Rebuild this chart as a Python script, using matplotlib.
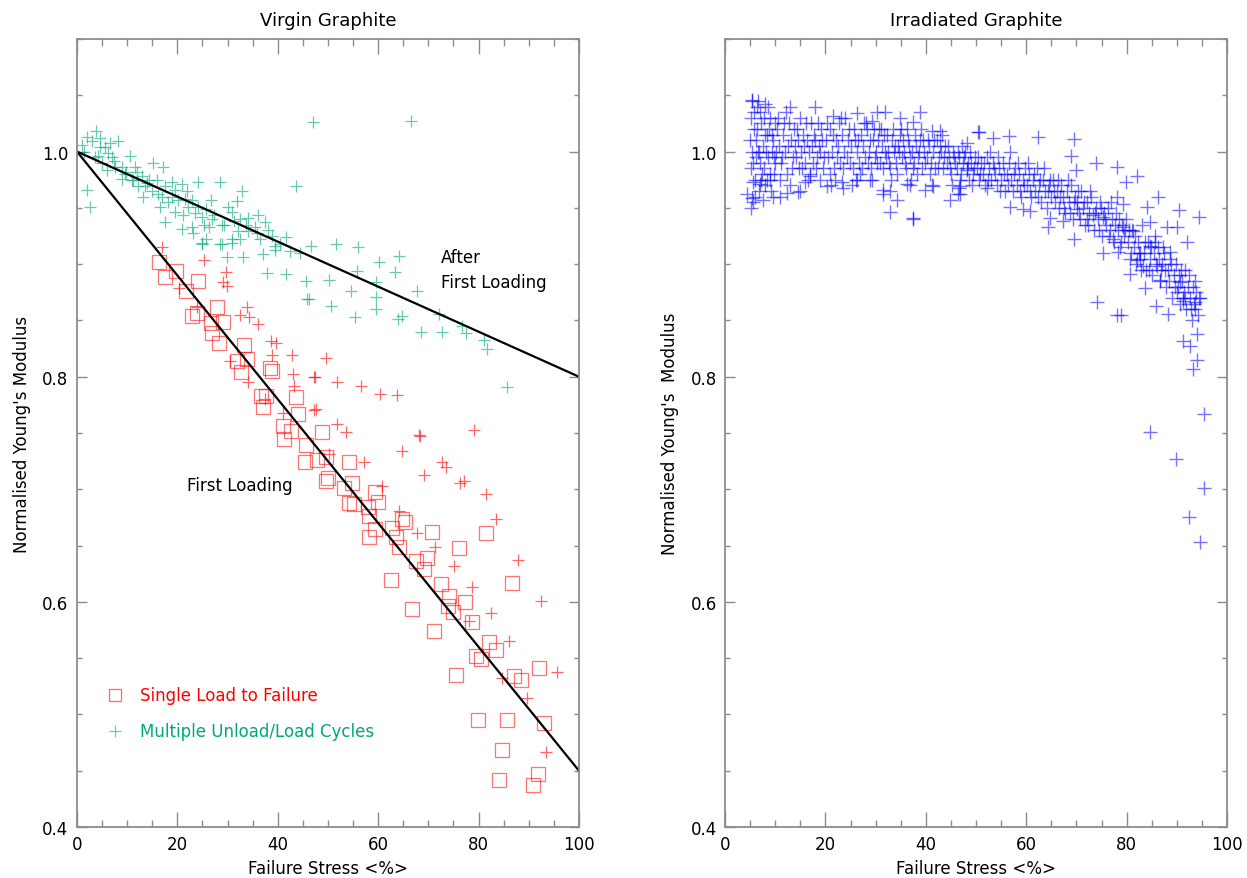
import numpy as np
import matplotlib
matplotlib.use("Agg")
import matplotlib.pyplot as plt
from matplotlib.ticker import MultipleLocator

# ---- Virgin graphite: single load to failure (squares) ----
sq_x = [16.3, 17.5, 19.7, 21.7, 24.1, 22.9, 23.9, 27.8, 29.0, 26.8, 27.0, 28.2, 33.2, 33.8,
        31.8, 32.6, 38.4, 38.8, 36.6, 37.6, 37.0, 43.7, 44.1, 41.0, 42.7, 41.2, 48.9, 45.7,
        49.7, 47.9, 45.5, 54.1, 50.1, 49.7, 54.7, 53.1, 59.4, 54.1, 55.1, 60.0, 57.9, 58.2,
        59.4, 58.2, 62.8, 64.8, 65.4, 63.6, 64.2, 70.8, 76.1, 81.5, 69.8, 67.6, 69.2, 62.6,
        72.6, 74.2, 77.3, 74.0, 74.9, 66.8, 71.2, 78.7, 82.1, 83.5, 79.5, 80.5, 86.7, 75.5,
        87.1, 88.5, 92.0, 79.9, 85.7, 93.0, 84.7, 84.1, 91.8, 90.9]
sq_y = [0.902, 0.889, 0.894, 0.876, 0.885, 0.854, 0.857, 0.862, 0.849, 0.848, 0.839, 0.830,
        0.828, 0.816, 0.814, 0.804, 0.808, 0.805, 0.783, 0.783, 0.773, 0.782, 0.767, 0.756,
        0.752, 0.745, 0.751, 0.739, 0.729, 0.726, 0.724, 0.724, 0.710, 0.707, 0.706, 0.701,
        0.698, 0.688, 0.687, 0.689, 0.684, 0.676, 0.665, 0.658, 0.666, 0.674, 0.671, 0.658,
        0.649, 0.662, 0.648, 0.661, 0.639, 0.636, 0.629, 0.619, 0.616, 0.605, 0.600, 0.596,
        0.591, 0.594, 0.574, 0.582, 0.564, 0.557, 0.552, 0.549, 0.617, 0.535, 0.534, 0.531,
        0.541, 0.495, 0.495, 0.492, 0.468, 0.442, 0.447, 0.437]

# ---- Virgin graphite: red crosses ----
rc_x = [16.9, 25.4, 29.6, 29.0, 29.8, 20.3, 23.9, 33.8, 32.4, 34.2, 36.0, 38.6, 39.6, 38.8,
        42.9, 30.4, 43.1, 47.3, 43.3, 34.0, 47.3, 41.0, 37.4, 49.7, 47.5, 51.9, 56.5, 60.4,
        63.8, 47.7, 51.9, 53.5, 68.4, 79.1, 64.8, 57.1, 72.8, 73.6, 69.2, 77.1, 76.3, 60.8,
        81.5, 50.3, 68.2, 64.2, 83.5, 67.8, 71.4, 75.2, 87.9, 78.7, 92.4, 82.5, 78.1, 86.1,
        84.7, 89.7, 95.6, 93.4]
rc_y = [0.915, 0.904, 0.893, 0.884, 0.881, 0.879, 0.862, 0.862, 0.855, 0.853, 0.847, 0.832,
        0.830, 0.819, 0.819, 0.814, 0.802, 0.800, 0.792, 0.795, 0.770, 0.768, 0.780, 0.817,
        0.800, 0.795, 0.792, 0.785, 0.784, 0.771, 0.758, 0.751, 0.747, 0.753, 0.734, 0.724,
        0.724, 0.720, 0.713, 0.707, 0.706, 0.703, 0.696, 0.731, 0.748, 0.681, 0.674, 0.661,
        0.649, 0.632, 0.637, 0.613, 0.601, 0.590, 0.583, 0.565, 0.532, 0.515, 0.538, 0.467]

# ---- Virgin graphite: multiple unload/load cycles (green crosses) ----
gc_x = [3.8, 2.0, 1.0, 3.0, 4.6, 5.6, 6.2, 8.2, 7.0, 5.0, 6.0, 7.6, 8.9, 9.5, 10.5, 11.5,
        11.1, 12.9, 12.1, 13.5, 15.1, 17.1, 15.9, 14.9, 16.9, 16.5, 17.5, 18.9, 19.5, 20.9,
        20.1, 21.9, 22.1, 21.1, 19.5, 24.1, 22.9, 24.1, 24.9, 25.8, 26.8, 28.4, 27.4, 28.8,
        26.4, 32.8, 31.8, 30.0, 30.8, 32.4, 34.0, 36.0, 37.4, 35.4, 34.0, 32.0, 30.8, 28.4,
        25.8, 24.9, 22.9, 20.9, 17.5, 2.6, 2.0, 36.4, 38.8, 39.4, 29.8, 33.0, 37.0, 39.4,
        41.7, 46.7, 51.7, 55.9, 60.2, 64.2, 55.7, 50.3, 45.7, 41.7, 37.8, 54.5, 59.6, 63.4,
        67.8, 59.6, 50.7, 45.9, 55.3, 59.6, 64.0, 64.8, 68.6, 72.8, 28.8, 25.0, 32.4, 30.8,
        23.1, 46.3, 72.2, 76.7, 77.5, 81.1, 81.7, 85.7, 47.1, 66.6, 43.7, 9.0, 14.0, 4.2,
        1.5, 3.5, 4.5, 6.6, 7.3, 9.8, 10.9, 12.0, 13.2, 14.3, 16.2, 18.2, 19.0, 21.5, 23.5,
        25.3, 26.9, 29.2, 31.2, 33.6, 35.8, 38.0, 40.5, 42.5, 44.5]
gc_y = [1.018, 1.013, 1.006, 1.009, 1.004, 1.004, 0.999, 1.009, 0.995, 0.990, 0.984, 0.986,
        0.986, 0.980, 0.996, 0.986, 0.975, 0.978, 0.969, 0.969, 0.990, 0.986, 0.975, 0.965,
        0.960, 0.951, 0.969, 0.973, 0.966, 0.971, 0.957, 0.965, 0.951, 0.944, 0.946, 0.973,
        0.957, 0.951, 0.942, 0.949, 0.957, 0.973, 0.944, 0.935, 0.933, 0.965, 0.956, 0.951,
        0.946, 0.940, 0.941, 0.944, 0.937, 0.933, 0.929, 0.929, 0.919, 0.918, 0.922, 0.919,
        0.933, 0.931, 0.937, 0.951, 0.966, 0.922, 0.925, 0.916, 0.906, 0.906, 0.909, 0.913,
        0.924, 0.916, 0.918, 0.915, 0.902, 0.907, 0.894, 0.886, 0.885, 0.891, 0.892, 0.876,
        0.884, 0.893, 0.876, 0.871, 0.863, 0.869, 0.853, 0.860, 0.851, 0.854, 0.840, 0.840,
        0.918, 0.918, 0.922, 0.922, 0.928, 0.869, 0.856, 0.845, 0.839, 0.833, 0.825, 0.791,
        1.026, 1.027, 0.969, 0.976, 0.972, 0.996,
        1.000, 0.995, 1.012, 1.008, 0.992, 0.982, 0.975, 0.982, 0.960, 0.975, 0.962, 0.955,
        0.960, 0.958, 0.945, 0.935, 0.940, 0.935, 0.938, 0.935, 0.928, 0.930, 0.918, 0.912,
        0.910]

# ---- fitted lines ----
line_x = [0, 100]
first_y = [1.0, 0.45]
after_y = [1.0, 0.80]

# ---- Irradiated graphite (blue crosses): scattered points ----
ir_x = [50.6, 53.4, 56.6, 62.4, 69.5, 68.9, 73.9, 78.1, 79.9, 82.1, 69.9, 86.3, 90.4, 94.4,
        92.0, 93.6, 74.1, 78.1, 78.9, 83.7, 85.9, 88.2, 94.0, 91.2, 92.6, 94.0, 93.2, 95.4,
        84.7, 89.8, 95.4, 92.4, 94.6, 64.3, 69.5, 75.3, 78.3, 80.7, 83.3, 86.7, 90.6, 91.2,
        91.6, 93.6, 90.0, 86.1, 88.6, 87.3, 84.7, 82.7, 82.1, 81.3, 79.3, 77.3, 75.3, 73.3,
        72.1, 70.1, 67.3, 64.7, 78.1, 79.3, 84.1, 84.7, 85.7, 90.0, 88.0, 56.8, 59.4, 60.8,
        46.6, 46.8, 52.2,
        5.4, 8.0, 17.9, 21.5, 26.3, 30.3, 31.9, 38.8, 29.3, 37.5, 41.2, 42.8, 48.2, 50.4,
        4.4, 5.4, 5.2, 7.6, 9.6, 12.4, 14.5, 20.3, 23.5, 23.3, 26.3, 31.5, 31.5, 34.3, 32.9,
        37.5, 39.8, 41.4, 44.8, 46.4, 46.8, 5.6, 7.0, 9.0, 16.9, 15.9, 28.9, 36.3, 48.2, 37.5]
ir_y = [1.017, 1.012, 1.014, 1.013, 1.011, 0.996, 0.990, 0.986, 0.973, 0.978, 0.984, 0.960,
        0.948, 0.942, 0.920, 0.885, 0.866, 0.855, 0.855, 0.879, 0.863, 0.856, 0.838, 0.832,
        0.827, 0.815, 0.807, 0.767, 0.751, 0.727, 0.701, 0.675, 0.653, 0.933, 0.922, 0.910,
        0.911, 0.891, 0.898, 0.886, 0.884, 0.867, 0.870, 0.866, 0.875, 0.898, 0.911, 0.915,
        0.916, 0.910, 0.904, 0.929, 0.933, 0.922, 0.942, 0.944, 0.940, 0.949, 0.938, 0.941,
        0.960, 0.953, 0.951, 0.937, 0.925, 0.933, 0.933, 0.951, 0.949, 0.947, 0.968, 0.962,
        0.968,
        1.046, 1.042, 1.040, 1.032, 1.034, 1.035, 1.035, 1.035, 1.027, 1.026, 1.018, 1.018,
        1.008, 1.017, 0.962, 0.959, 0.950, 0.957, 0.960, 0.963, 0.964, 0.969, 0.968, 0.973,
        0.975, 0.962, 0.966, 0.957, 0.946, 0.941, 0.966, 0.969, 0.957, 0.962, 0.969, 0.973,
        0.971, 0.975, 0.978, 0.973, 0.975, 0.971, 0.984, 0.940]

# ---- Irradiated graphite: dense core of the band ----
core_x = [5.2, 5.8, 6.1, 6.5, 6.9, 7.2, 7.5, 7.8, 8.3, 8.6, 9.0, 9.4, 9.8, 5.5, 5.9, 6.3, 7.0,
          8.0, 8.8, 9.6, 5.0, 5.3, 10.0, 6.7, 7.4,
          5.1, 5.7, 6.0, 6.4, 6.8, 7.1, 7.7, 8.1, 8.5, 8.9, 9.3, 9.7, 5.4, 6.6, 7.9, 9.1, 5.6,
          8.4, 9.9, 6.2,
          10.4, 10.8, 11.2, 11.6, 12.0, 12.4, 12.8, 13.2, 13.6, 14.0, 14.4, 14.8, 15.2, 15.6,
          16.0, 16.4, 16.8, 17.2, 17.6, 18.0, 18.4, 18.8, 19.2, 19.6, 11.0, 13.0, 15.0, 17.0,
          19.0, 12.2,
          10.2, 10.6, 11.4, 11.8, 12.6, 13.4, 13.8, 14.2, 14.6, 15.4, 15.8, 16.2, 16.6, 17.4,
          17.8, 18.2, 18.6, 19.4, 19.8, 10.9, 14.9, 18.9, 12.9,
          20.2, 20.6, 21.0, 21.4, 21.8, 22.2, 22.6, 23.0, 23.4, 23.8, 24.2, 24.6, 25.0, 25.4,
          25.8, 26.2, 26.6, 27.0, 27.4, 27.8, 28.2, 28.6, 29.0, 29.4, 29.8, 22.0, 24.0, 26.0,
          28.0, 30.0,
          20.4, 20.9, 21.6, 22.4, 22.8, 23.6, 24.4, 24.8, 25.6, 26.4, 26.8, 27.6, 28.4, 28.8,
          29.6, 21.2, 23.2, 25.2, 27.2, 29.2,
          30.4, 30.8, 31.2, 31.6, 32.0, 32.4, 32.8, 33.2, 33.6, 34.0, 34.4, 34.8, 35.2, 35.6,
          36.0, 36.4, 36.8, 37.2, 37.6, 38.0, 38.4, 38.8, 39.2, 39.6, 31.0, 33.0, 35.0, 37.0,
          39.0,
          30.2, 30.6, 31.4, 31.8, 32.2, 32.6, 33.4, 33.8, 34.2, 34.6, 35.4, 35.8, 36.2, 36.6,
          37.4, 37.8, 38.2, 38.6, 39.4, 39.8, 32.9, 36.9, 34.9,
          40.2, 40.6, 41.0, 41.4, 41.8, 42.2, 42.6, 43.0, 43.4, 43.8, 44.2, 44.6, 45.0, 45.4,
          45.8, 46.2, 46.6, 47.0, 47.4, 47.8, 48.2, 48.6, 49.0, 49.4, 49.8,
          40.4, 40.8, 41.6, 42.4, 42.8, 43.6, 44.4, 44.8, 45.6, 46.4, 46.8, 47.6, 48.4, 48.8,
          49.6, 41.2, 43.2, 45.2, 47.2, 49.2,
          50.2, 50.6, 51.0, 51.4, 51.8, 52.2, 52.6, 53.0, 53.4, 53.8, 54.2, 54.6, 55.0, 55.4,
          55.8, 56.2, 56.6, 57.0, 57.4, 57.8, 58.2, 58.6, 59.0, 59.4, 59.8,
          50.4, 50.8, 51.6, 52.4, 52.8, 53.6, 54.4, 54.8, 55.6, 56.4, 56.8, 57.6, 58.4, 58.8,
          59.6,
          60.2, 60.6, 61.0, 61.4, 61.8, 62.2, 62.6, 63.0, 63.4, 63.8, 64.2, 64.6, 65.0, 65.4,
          65.8, 66.2, 66.6, 67.0, 67.4, 67.8, 68.2, 68.6, 69.0, 69.4, 69.8,
          60.4, 60.8, 61.6, 62.4, 62.8, 63.6, 64.4, 64.8, 65.6, 66.4, 66.8, 67.6, 68.4, 68.8,
          69.6,
          70.2, 70.6, 71.0, 71.4, 71.8, 72.2, 72.6, 73.0, 73.4, 73.8, 74.2, 74.6, 75.0, 75.4,
          75.8, 76.2, 76.6, 77.0, 77.4, 77.8, 78.2, 78.6, 79.0, 79.4, 79.8,
          70.4, 70.8, 71.6, 72.4, 72.8, 73.6, 74.4, 74.8, 75.6, 76.4, 76.8, 77.6, 78.4, 78.8,
          79.6,
          80.2, 80.6, 81.0, 81.4, 81.8, 82.2, 82.6, 83.0, 83.4, 83.8, 84.2, 84.6, 85.0, 85.4,
          85.8, 86.2, 86.6, 87.0, 87.4, 87.8, 88.2, 88.6, 89.0, 89.4, 89.8,
          80.4, 80.8, 81.6, 82.4, 82.8, 83.6, 84.4, 84.8, 85.6, 86.4, 86.8, 87.6, 88.4, 88.8,
          89.6,
          90.2, 90.6, 91.0, 91.4, 91.8, 92.2, 92.6, 93.0, 93.4, 93.8, 94.2, 94.6, 90.8, 92.4,
          90.4, 91.2, 91.6, 92.8, 93.2, 93.6, 94.4]
core_y = [1.030, 1.020, 1.010, 1.000, 0.990, 1.025, 1.005, 0.985, 1.015, 0.995, 1.030, 1.000,
          0.980, 0.990, 0.975, 1.040, 1.035, 0.970, 1.020, 1.010, 1.010, 1.000, 0.990, 0.965,
          0.980,
          0.985, 1.035, 0.960, 1.020, 1.000, 0.975, 1.030, 1.000, 1.040, 0.980, 1.015, 0.995,
          1.045, 1.045, 1.015, 0.965, 0.955, 0.975, 1.025, 0.995,
          1.020, 1.005, 0.990, 1.015, 1.000, 0.980, 1.025, 1.010, 0.995, 1.005, 1.020, 0.985,
          1.000, 1.015, 0.990, 1.010, 1.000, 1.025, 0.990, 1.010, 0.995, 1.005, 1.020, 0.985,
          0.975, 0.970, 1.030, 0.980, 1.000, 1.035,
          1.000, 1.030, 0.995, 1.025, 1.005, 0.985, 1.020, 0.995, 1.010, 0.985, 1.005, 1.025,
          0.975, 1.005, 1.015, 0.985, 1.025, 1.010, 0.995, 0.960, 0.965, 0.975, 1.040,
          1.010, 0.995, 1.020, 1.000, 0.985, 1.010, 1.005, 0.990, 1.015, 1.000, 0.995, 1.020,
          1.005, 0.985, 1.010, 1.000, 0.990, 1.015, 1.005, 0.995, 1.020, 1.000, 0.985, 1.010,
          0.995, 0.975, 1.030, 0.975, 1.025, 1.000,
          1.025, 0.980, 1.015, 0.995, 1.025, 0.985, 1.010, 0.990, 1.020, 1.010, 0.980, 1.025,
          0.990, 1.010, 1.020, 0.970, 1.030, 0.970, 0.985, 0.975,
          1.010, 0.990, 1.005, 1.015, 0.995, 1.000, 0.985, 1.010, 1.000, 0.990, 1.005, 1.015,
          0.995, 1.000, 0.985, 1.010, 0.995, 1.000, 0.990, 1.005, 0.995, 1.010, 0.985, 1.000,
          1.020, 0.975, 1.020, 0.975, 1.020,
          0.990, 1.020, 0.985, 1.000, 1.015, 0.990, 1.020, 1.005, 0.980, 1.000, 1.010, 0.990,
          1.020, 1.005, 0.985, 1.015, 0.980, 1.000, 1.010, 0.990, 0.965, 0.970, 1.030,
          0.995, 1.005, 0.990, 1.000, 0.985, 1.010, 0.995, 1.000, 0.985, 1.005, 0.990, 0.995,
          0.980, 1.000, 0.990, 0.985, 0.995, 0.980, 0.990, 1.000, 0.985, 0.975, 0.990, 0.980,
          0.995,
          1.010, 0.980, 1.010, 0.985, 1.005, 0.995, 1.005, 0.985, 0.995, 1.000, 0.975, 0.995,
          0.990, 1.000, 0.985, 0.970, 1.015, 0.970, 1.005, 0.970,
          0.985, 0.975, 0.990, 0.980, 0.970, 0.995, 0.985, 0.975, 0.990, 0.980, 0.970, 0.985,
          0.975, 0.990, 0.965, 0.980, 0.990, 0.975, 0.965, 0.985, 0.970, 0.980, 0.960, 0.975,
          0.985,
          0.995, 0.980, 0.990, 0.975, 1.000, 0.985, 0.995, 0.965, 0.980, 0.970, 1.000, 0.980,
          0.990, 0.965, 0.970,
          0.970, 0.980, 0.960, 0.975, 0.965, 0.985, 0.970, 0.955, 0.975, 0.965, 0.950, 0.970,
          0.960, 0.975, 0.955, 0.965, 0.950, 0.970, 0.960, 0.945, 0.965, 0.955, 0.970, 0.940,
          0.960,
          0.990, 0.965, 0.980, 0.960, 0.975, 0.985, 0.965, 0.975, 0.965, 0.975, 0.960, 0.950,
          0.975, 0.945, 0.955,
          0.955, 0.945, 0.965, 0.950, 0.935, 0.955, 0.945, 0.960, 0.930, 0.950, 0.940, 0.955,
          0.925, 0.945, 0.935, 0.950, 0.930, 0.940, 0.920, 0.945, 0.930, 0.915, 0.935, 0.925,
          0.940,
          0.965, 0.940, 0.955, 0.935, 0.965, 0.945, 0.930, 0.950, 0.940, 0.925, 0.955, 0.935,
          0.940, 0.920, 0.930,
          0.920, 0.905, 0.930, 0.915, 0.900, 0.920, 0.905, 0.935, 0.910, 0.895, 0.920, 0.905,
          0.890, 0.910, 0.900, 0.915, 0.885, 0.900, 0.910, 0.880, 0.895, 0.905, 0.870, 0.890,
          0.900,
          0.930, 0.910, 0.925, 0.910, 0.895, 0.920, 0.895, 0.915, 0.920, 0.905, 0.895, 0.895,
          0.885, 0.900, 0.880,
          0.880, 0.865, 0.885, 0.875, 0.860, 0.880, 0.870, 0.850, 0.865, 0.875, 0.855, 0.870,
          0.895, 0.890,
          0.890, 0.870, 0.895, 0.860, 0.880, 0.860, 0.870]

x_ticks = [0, 20, 40, 60, 80, 100]
y_ticks = [0.4, 0.6, 0.8, 1.0]

GREEN = "#00a878"
AXC = "#8c8c8c"

fig = plt.figure(figsize=(12.47, 8.79), dpi=100)
ax1 = fig.add_axes([0.0617, 0.058, 0.4026, 0.8965])
ax2 = fig.add_axes([0.5814, 0.058, 0.4026, 0.8965])


def style(ax, title, ylabel):
    ax.set_xlim(0, 100)
    ax.set_ylim(0.4, 1.1)
    ax.set_xticks(x_ticks)
    ax.set_yticks(y_ticks)
    ax.set_yticklabels([f"{v:.1f}" for v in y_ticks])
    ax.xaxis.set_minor_locator(MultipleLocator(5))
    ax.yaxis.set_minor_locator(MultipleLocator(0.05))
    ax.tick_params(which="both", direction="in", top=True, right=True, color=AXC,
                   width=1.0, labelsize=12, pad=6)
    ax.tick_params(axis="x", which="major", length=11)
    ax.tick_params(axis="x", which="minor", length=5)
    ax.tick_params(axis="y", which="major", length=7.5)
    ax.tick_params(axis="y", which="minor", length=3.5)
    for s in ax.spines.values():
        s.set_color(AXC)
        s.set_linewidth(1.3)
    ax.set_title(title, fontsize=13, pad=10)
    ax.set_xlabel("Failure Stress <%>", fontsize=12, labelpad=4)
    ax.set_ylabel(ylabel, fontsize=12, labelpad=8)


# left panel
ax1.plot(sq_x, sq_y, linestyle="none", marker="s", markersize=10, markerfacecolor="none",
         markeredgecolor="red", markeredgewidth=0.9, alpha=0.55)
ax1.plot(rc_x, rc_y, linestyle="none", marker="+", markersize=9, markeredgecolor="red",
         markeredgewidth=0.9, alpha=0.6)
ax1.plot(gc_x, gc_y, linestyle="none", marker="+", markersize=9, markeredgecolor=GREEN,
         markeredgewidth=0.9, alpha=0.6)
ax1.plot(line_x, first_y, color="black", linewidth=1.6)
ax1.plot(line_x, after_y, color="black", linewidth=1.6)
ax1.text(72.5, 0.906, "After", fontsize=12, va="center")
ax1.text(72.5, 0.884, "First Loading", fontsize=12, va="center")
ax1.text(22, 0.704, "First Loading", fontsize=12, va="center")
ax1.plot([7.6], [0.517], linestyle="none", marker="s", markersize=9, markerfacecolor="none",
         markeredgecolor="red", markeredgewidth=0.9, alpha=0.6)
ax1.text(12.5, 0.517, "Single Load to Failure", color="red", fontsize=12, va="center")
ax1.plot([7.6], [0.485], linestyle="none", marker="+", markersize=9, markeredgecolor=GREEN,
         markeredgewidth=0.9, alpha=0.6)
ax1.text(12.5, 0.485, "Multiple Unload/Load Cycles", color=GREEN, fontsize=12, va="center")
style(ax1, "Virgin Graphite", "Normalised Young's Modulus")

# right panel
ax2.plot(ir_x, ir_y, linestyle="none", marker="+", markersize=9.5, markeredgecolor="blue",
         markeredgewidth=1.0, alpha=0.55)
ax2.plot(core_x, core_y, linestyle="none", marker="+", markersize=9.5, markeredgecolor="blue",
         markeredgewidth=1.0, alpha=0.55)
style(ax2, "Irradiated Graphite", "Normalised Young's  Modulus")

fig.savefig("out.png", dpi=100)
